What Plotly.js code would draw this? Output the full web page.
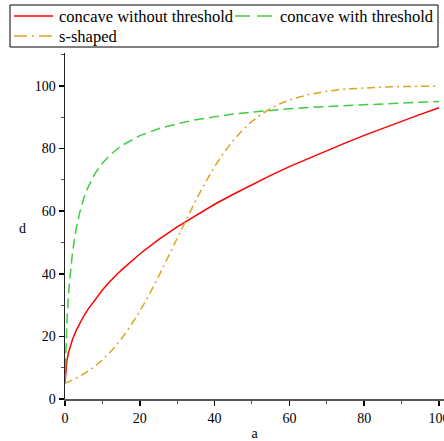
<!DOCTYPE html>
<html>
<head>
<meta charset="utf-8">
<script src="https://cdn.plot.ly/plotly-3.0.1.min.js"></script>
<style>html,body{margin:0;padding:0;background:#fff;}#chart{width:444px;height:441px;}</style>
</head>
<body>
<div id="chart"></div>
<script>
// Values
var seriesNames = ["concave without threshold", "concave with threshold", "s-shaped"];
var seriesColors = ["#ff0000", "#40cc40", "#daa520"];

var aConcave = [0, 0.25, 0.5, 1, 1.5, 2, 3, 4, 5, 6, 8, 10, 12, 15, 20, 25, 30, 35, 40, 45, 50, 55, 60, 65, 70, 75, 80, 85, 90, 95, 100];
var dNoThreshold = [5.0, 10.3, 12.3, 15.1, 17.2, 19.0, 21.9, 24.4, 26.5, 28.4, 31.8, 34.8, 37.5, 41.1, 46.3, 50.9, 55.0, 58.7, 62.2, 65.4, 68.5, 71.4, 74.2, 76.8, 79.4, 81.8, 84.2, 86.5, 88.7, 90.9, 93.0];
var dThreshold = [5.0, 17.3, 24.6, 34.6, 41.5, 46.8, 54.5, 59.9, 64.0, 67.2, 72.0, 75.3, 77.9, 80.8, 84.1, 86.3, 87.9, 89.2, 90.1, 91.0, 91.6, 92.2, 92.7, 93.1, 93.4, 93.8, 94.1, 94.3, 94.6, 94.8, 95.0];

var aS = [0, 2.5, 5, 7.5, 10, 12.5, 15, 17.5, 20, 22.5, 25, 27.5, 30, 32.5, 35, 37.5, 40, 42.5, 45, 47.5, 50, 52.5, 55, 57.5, 60, 65, 70, 75, 80, 85, 90, 95, 100];
var dS = [5.0, 6.3, 8.0, 10.0, 12.5, 15.5, 19.1, 23.3, 28.0, 33.3, 39.1, 45.2, 51.4, 57.6, 63.5, 69.1, 74.2, 78.7, 82.6, 85.9, 88.7, 90.9, 92.8, 94.3, 95.5, 97.2, 98.3, 99.0, 99.4, 99.6, 99.8, 99.9, 99.9];

var xTickVals = [0, 20, 40, 60, 80, 100];
var yTickVals = [0, 20, 40, 60, 80, 100];
var xTitle = "a";
var yTitle = "d";

var serif = "Liberation Serif";
var W = 444, H = 441, ML = 65, MR = 0, MT = 53, MB = 42;
var PW = W - ML - MR, PH = H - MT - MB;
function px(xp) { return (xp - ML) / PW; }
function py(yp) { return (H - MB - yp) / PH; }

var dashes = ["solid", "10px,5px", "8px,4px,2px,4px"];
var legendDashes = ["solid", "15px,7px", "13px,5px,2px,5px"];

var traces = [
  {x: aConcave, y: dNoThreshold, name: seriesNames[0], mode: "lines",
   line: {color: seriesColors[0], width: 1.5, dash: dashes[0]}},
  {x: aConcave, y: dThreshold, name: seriesNames[1], mode: "lines",
   line: {color: seriesColors[1], width: 1.5, dash: dashes[1]}},
  {x: aS, y: dS, name: seriesNames[2], mode: "lines",
   line: {color: seriesColors[2], width: 1.5, dash: dashes[2]}}
];

// legend drawn as a framed box (positions in pixels of the page)
var legendItems = [
  {i: 0, lx: 14, ly: 16, tx: 59},
  {i: 1, lx: 235, ly: 16, tx: 280},
  {i: 2, lx: 14, ly: 36, tx: 59}
];
var shapes = [
  {type: "rect", xref: "paper", yref: "paper", x0: px(10), x1: px(438), y0: py(5), y1: py(47),
   line: {color: "#000", width: 1}, fillcolor: "#fff", layer: "above"}
];
var annotations = [
  {text: yTitle, xref: "paper", yref: "paper", x: px(22), y: 0.494,
   xanchor: "center", yanchor: "middle", showarrow: false,
   font: {family: serif, size: 14, color: "#000"}}
];
legendItems.forEach(function (it) {
  shapes.push({type: "line", xref: "paper", yref: "paper",
    x0: px(it.lx), x1: px(it.lx + 39), y0: py(it.ly), y1: py(it.ly),
    line: {color: seriesColors[it.i], width: 1.5, dash: legendDashes[it.i]}, layer: "above"});
  annotations.push({text: seriesNames[it.i], xref: "paper", yref: "paper",
    x: px(it.tx - 1), y: py(it.ly), xanchor: "left", yanchor: "middle", showarrow: false,
    borderpad: 0, font: {family: serif, size: 16.5, color: "#000"}});
});

var layout = {
  width: W, height: H,
  margin: {l: ML, r: MR, t: MT, b: MB, pad: 0},
  paper_bgcolor: "#ffffff", plot_bgcolor: "#ffffff",
  font: {family: serif, size: 14, color: "#000"},
  showlegend: false,
  xaxis: {
    range: [0, 101.34], tickvals: xTickVals, ticktext: xTickVals.map(String),
    showgrid: false, zeroline: false, showline: true, linecolor: "#555", linewidth: 2,
    ticks: "outside", ticklen: 5, tickwidth: 1.5, tickcolor: "#000",
    ticklabeloverflow: "allow",
    minor: {dtick: 10, tick0: 0, ticks: "outside", ticklen: 3, tickcolor: "#555", tickwidth: 1},
    tickfont: {family: serif, size: 14, color: "#000"},
    title: {text: xTitle, font: {family: serif, size: 14, color: "#000"}, standoff: 6},
    fixedrange: true
  },
  yaxis: {
    range: [0, 110.5], tickvals: yTickVals, ticktext: yTickVals.map(String),
    showgrid: false, zeroline: false, showline: true, linecolor: "#222", linewidth: 1.5,
    ticks: "outside", ticklen: 5, tickwidth: 1.5, tickcolor: "#000",
    minor: {dtick: 10, tick0: 0, ticks: "outside", ticklen: 3, tickcolor: "#555", tickwidth: 1},
    tickfont: {family: serif, size: 14, color: "#000"},
    fixedrange: true
  },
  shapes: shapes,
  annotations: annotations
};

Plotly.newPlot("chart", traces, layout, {displayModeBar: false, staticPlot: true});
</script>
</body>
</html>
